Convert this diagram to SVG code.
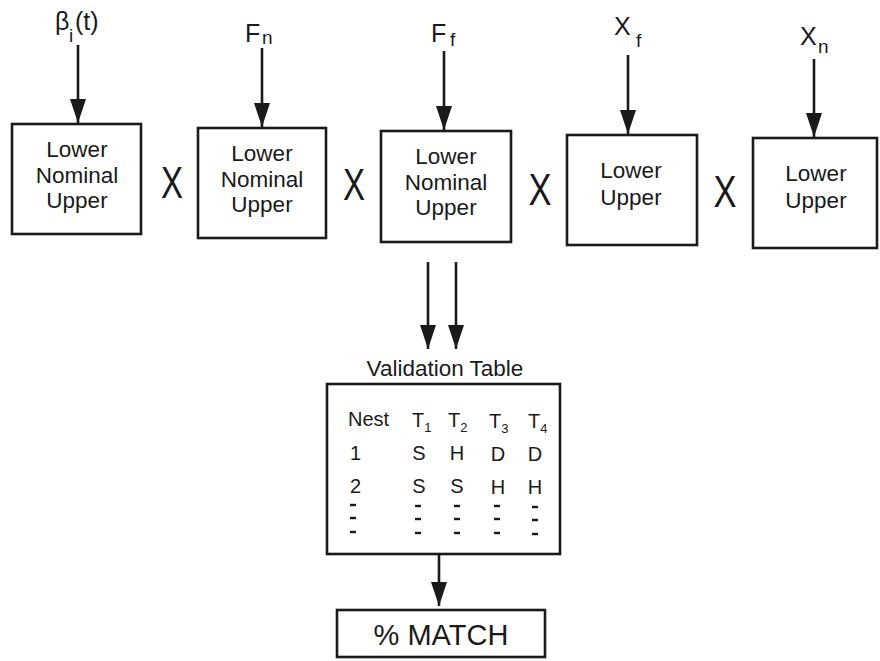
<svg xmlns="http://www.w3.org/2000/svg" width="880" height="661" viewBox="0 0 880 661">
  <style>
    .box { fill: #fff; stroke: #1a1a1a; stroke-width: 2.6; }
    .t { font-family: "Liberation Sans", Arial, Helvetica, sans-serif; fill: #1a1a1a; }
    .lbl { font-size: 22.5px; text-anchor: middle; }
    .var { font-size: 25px; }
    .sub { font-size: 19px; }
    .x { font-size: 45px; text-anchor: middle; }
    .tab { font-size: 20px; }
    .cell { font-size: 20px; text-anchor: middle; }
    .tsub { font-size: 13px; }
    .wire { stroke: #1a1a1a; stroke-width: 2.6; fill: none; marker-end: url(#down); }
    .dash { stroke: #1a1a1a; stroke-width: 2.4; }
  </style>
  <defs>
    <marker id="down" viewBox="0 0 16 24" refX="8" refY="24" markerWidth="16" markerHeight="24" markerUnits="userSpaceOnUse" orient="0">
      <path d="M0,0 L16,0 L8,24 Z" fill="#1a1a1a"/>
    </marker>
  </defs>

  <!-- connectors -->
  <g id="connectors">
    <line class="wire" x1="78" y1="45" x2="78" y2="123"/>
    <line class="wire" x1="262" y1="48" x2="262" y2="127"/>
    <line class="wire" x1="444" y1="51" x2="444" y2="130"/>
    <line class="wire" x1="628" y1="55" x2="628" y2="134"/>
    <line class="wire" x1="814" y1="59" x2="814" y2="137"/>
    <line class="wire" x1="428" y1="262" x2="428" y2="349"/>
    <line class="wire" x1="456" y1="262" x2="456" y2="349"/>
    <line class="wire" x1="439" y1="554" x2="439" y2="606"/>
  </g>

  <!-- input labels -->
  <g id="inputs" class="t">
    <text class="var" x="55" y="30">β<tspan class="sub" x="69" y="42">i</tspan><tspan x="75" y="30">(t)</tspan></text>
    <text class="var" x="245" y="42">F<tspan class="sub" x="262" y="44">n</tspan></text>
    <text class="var" x="431" y="42">F<tspan class="sub" x="450" y="46">f</tspan></text>
    <text class="var" x="614" y="35">X<tspan class="sub" x="636" y="47">f</tspan></text>
    <text class="var" x="800" y="45">X<tspan class="sub" x="818" y="53">n</tspan></text>
  </g>

  <!-- parameter boxes -->
  <g id="beta-box">
    <rect class="box" x="12" y="124" width="129" height="110"/>
    <text class="t lbl" x="77" y="157">Lower</text>
    <text class="t lbl" x="77" y="183">Nominal</text>
    <text class="t lbl" x="77" y="208">Upper</text>
  </g>
  <g id="fn-box">
    <rect class="box" x="198" y="128" width="128" height="110"/>
    <text class="t lbl" x="262" y="161">Lower</text>
    <text class="t lbl" x="262" y="187">Nominal</text>
    <text class="t lbl" x="262" y="212">Upper</text>
  </g>
  <g id="ff-box">
    <rect class="box" x="381" y="131" width="130" height="111"/>
    <text class="t lbl" x="446" y="164">Lower</text>
    <text class="t lbl" x="446" y="190">Nominal</text>
    <text class="t lbl" x="446" y="215">Upper</text>
  </g>
  <g id="xf-box">
    <rect class="box" x="567" y="135" width="130" height="110"/>
    <text class="t lbl" x="631" y="178">Lower</text>
    <text class="t lbl" x="631" y="205">Upper</text>
  </g>
  <g id="xn-box">
    <rect class="box" x="753" y="138" width="124" height="110"/>
    <text class="t lbl" x="816" y="181">Lower</text>
    <text class="t lbl" x="816" y="208">Upper</text>
  </g>

  <!-- product signs -->
  <g id="times" class="t">
    <text class="x" x="172" y="198" textLength="22" lengthAdjust="spacingAndGlyphs">X</text>
    <text class="x" x="354" y="200" textLength="22" lengthAdjust="spacingAndGlyphs">X</text>
    <text class="x" x="540" y="205" textLength="23" lengthAdjust="spacingAndGlyphs">X</text>
    <text class="x" x="725" y="207" textLength="23" lengthAdjust="spacingAndGlyphs">X</text>
  </g>

  <!-- validation table -->
  <g id="validation-table">
    <text class="t lbl" x="445" y="376">Validation Table</text>
    <rect class="box" x="327" y="384" width="233" height="170"/>
    <text class="t tab" x="348" y="426">Nest</text>
    <text class="t tab" x="412" y="427">T<tspan class="tsub" dy="5">1</tspan></text>
    <text class="t tab" x="448" y="427">T<tspan class="tsub" dy="5">2</tspan></text>
    <text class="t tab" x="489" y="428">T<tspan class="tsub" dy="5">3</tspan></text>
    <text class="t tab" x="528" y="428">T<tspan class="tsub" dy="5">4</tspan></text>
    <text class="t tab" x="350" y="460">1</text>
    <text class="t cell" x="419" y="460">S</text>
    <text class="t cell" x="457" y="460">H</text>
    <text class="t cell" x="498" y="461">D</text>
    <text class="t cell" x="535" y="461">D</text>
    <text class="t tab" x="350" y="493">2</text>
    <text class="t cell" x="419" y="493">S</text>
    <text class="t cell" x="457" y="493">S</text>
    <text class="t cell" x="498" y="494">H</text>
    <text class="t cell" x="535" y="494">H</text>
    <g class="dash">
      <line x1="350" y1="505" x2="356" y2="505"/>
      <line x1="350" y1="518" x2="356" y2="518"/>
      <line x1="350" y1="532" x2="356" y2="532"/>
      <line x1="415" y1="506" x2="421" y2="506"/>
      <line x1="415" y1="519" x2="421" y2="519"/>
      <line x1="415" y1="533" x2="421" y2="533"/>
      <line x1="454" y1="506" x2="460" y2="506"/>
      <line x1="454" y1="519" x2="460" y2="519"/>
      <line x1="454" y1="533" x2="460" y2="533"/>
      <line x1="494" y1="506" x2="500" y2="506"/>
      <line x1="494" y1="519" x2="500" y2="519"/>
      <line x1="494" y1="533" x2="500" y2="533"/>
      <line x1="532" y1="507" x2="538" y2="507"/>
      <line x1="532" y1="520" x2="538" y2="520"/>
      <line x1="532" y1="534" x2="538" y2="534"/>
    </g>
  </g>

  <!-- result -->
  <g id="match-box">
    <rect class="box" x="337" y="610" width="208" height="47"/>
    <text class="t" x="441" y="645" font-size="29" text-anchor="middle">% MATCH</text>
  </g>
</svg>
